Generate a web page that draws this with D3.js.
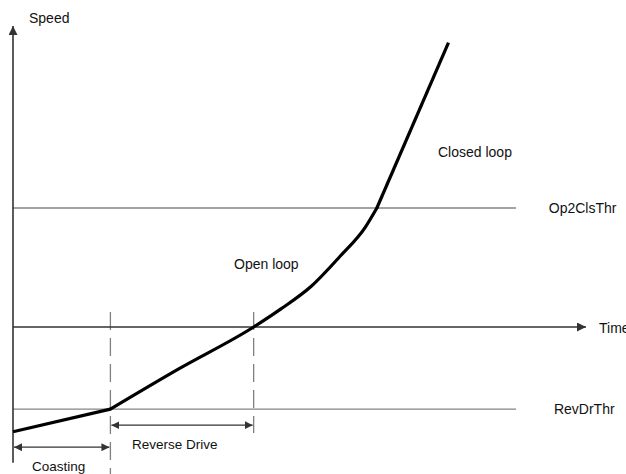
<!DOCTYPE html>
<html>
<head>
<meta charset="utf-8">
<script src="https://cdn.jsdelivr.net/npm/d3@7"></script>
<style>
  html, body { margin: 0; padding: 0; background: #fff; }
  svg { display: block; }
  text { font-family: "Liberation Sans", Arial, sans-serif; fill: #111; }
</style>
</head>
<body>
<svg id="chart" width="626" height="474"></svg>
<script>
// ---- Data (arbitrary units) ----
const curveCoastT = [0, 1.7];
const curveCoastS = [-88, -69];
const curveOpenT = [1.7, 2.9, 4.2, 4.67, 5.2, 5.7, 6.15, 6.35];
const curveOpenS = [-69, -35, 0, 15, 34, 59, 84, 100];
const curveClosedT = [6.35, 7.6];
const curveClosedS = [100, 239];

const thresholdNames = ["Op2ClsThr", "RevDrThr"];
const thresholdValues = [100, -69];

const phaseBoundaries = [1.7, 4.2];          // end of coasting, end of reverse drive
const phaseLabels = ["Coasting", "Reverse Drive"];
const regionLabels = ["Open loop", "Closed loop"];
const axisLabels = ["Speed", "Time"];

// ---- Scales ----
const x = d3.scaleLinear().domain([0, 10]).range([13, 586]);
const y = d3.scaleLinear().domain([0, 100]).range([327, 208]);

const svg = d3.select("#chart");

// markers
const defs = svg.append("defs");
function marker(id, len, half, color) {
  defs.append("marker")
    .attr("id", id)
    .attr("markerUnits", "userSpaceOnUse")
    .attr("viewBox", `0 ${-half} ${len} ${2 * half}`)
    .attr("refX", len).attr("refY", 0)
    .attr("markerWidth", len).attr("markerHeight", 2 * half)
    .attr("orient", "auto-start-reverse")
    .append("path")
    .attr("d", `M0,${-half}L${len},0L0,${half}Z`)
    .attr("fill", color);
}
marker("axisArrow", 9, 4.5, "#333");
marker("dimArrow", 8, 4, "#333");

// threshold lines
svg.append("g").selectAll("line")
  .data(thresholdValues)
  .join("line")
  .attr("x1", x(0)).attr("x2", x(8.78))
  .attr("y1", d => y(d)).attr("y2", d => y(d))
  .attr("stroke", "#858585").attr("stroke-width", 1.3);

svg.append("g").selectAll("text")
  .data(thresholdNames)
  .join("text")
  .attr("x", (d, i) => i === 0 ? x(9.35) : x(9.44))
  .attr("y", (d, i) => y(thresholdValues[i]) + 5)
  .attr("font-size", 14)
  .text(d => d);

// dashed phase boundaries
const dashBottoms = [-124, -89];
svg.append("g").selectAll("line")
  .data(phaseBoundaries)
  .join("line")
  .attr("x1", d => x(d)).attr("x2", d => x(d))
  .attr("y1", y(12.6)).attr("y2", (d, i) => y(dashBottoms[i]))
  .attr("stroke", "#808080").attr("stroke-width", 1.3)
  .attr("stroke-dasharray", "18,8");

// time axis (speed = 0)
svg.append("line")
  .attr("x1", x(0)).attr("x2", x(10))
  .attr("y1", y(0)).attr("y2", y(0))
  .attr("stroke", "#333").attr("stroke-width", 1.6)
  .attr("marker-end", "url(#axisArrow)");

// speed axis
svg.append("line")
  .attr("x1", x(0)).attr("x2", x(0))
  .attr("y1", y(-114)).attr("y2", y(253))
  .attr("stroke", "#333").attr("stroke-width", 1.6)
  .attr("marker-end", "url(#axisArrow)");

// axis labels
svg.append("text").attr("x", 29).attr("y", 23).attr("font-size", 14).text(axisLabels[0]);
svg.append("text").attr("x", x(10) + 13).attr("y", y(0) + 6).attr("font-size", 14).text(axisLabels[1]);

// speed curve
const lineLin = d3.line().x(d => x(d[0])).y(d => y(d[1]));
const lineSmooth = d3.line().x(d => x(d[0])).y(d => y(d[1])).curve(d3.curveMonotoneX);
const zip = (a, b) => a.map((v, i) => [v, b[i]]);

svg.append("path").datum(zip(curveCoastT, curveCoastS))
  .attr("d", lineLin).attr("fill", "none").attr("stroke", "#000")
  .attr("stroke-width", 3.2).attr("stroke-linejoin", "round");
svg.append("path").datum(zip(curveOpenT, curveOpenS))
  .attr("d", lineSmooth).attr("fill", "none").attr("stroke", "#000")
  .attr("stroke-width", 3.2).attr("stroke-linejoin", "round").attr("stroke-linecap", "round");
svg.append("path").datum(zip(curveClosedT, curveClosedS))
  .attr("d", lineLin).attr("fill", "none").attr("stroke", "#000")
  .attr("stroke-width", 3.2).attr("stroke-linecap", "butt");

// dimension arrows
const dimStart = [0, phaseBoundaries[0]];
const dimEnd = [phaseBoundaries[0], phaseBoundaries[1]];
const dimLevel = [-101, -82.5];
svg.append("g").selectAll("line")
  .data(phaseLabels)
  .join("line")
  .attr("x1", (d, i) => x(dimStart[i]) + 1).attr("x2", (d, i) => x(dimEnd[i]) - 1)
  .attr("y1", (d, i) => y(dimLevel[i])).attr("y2", (d, i) => y(dimLevel[i]))
  .attr("stroke", "#333").attr("stroke-width", 1.3)
  .attr("marker-start", "url(#dimArrow)")
  .attr("marker-end", "url(#dimArrow)");

const phaseLabelX = [32, 132];
const phaseLabelY = [471, 449];
svg.append("g").selectAll("text")
  .data(phaseLabels)
  .join("text")
  .attr("x", (d, i) => phaseLabelX[i])
  .attr("y", (d, i) => phaseLabelY[i])
  .attr("font-size", 13.5)
  .text(d => d);

// region labels
svg.append("text").attr("x", 234).attr("y", 269).attr("font-size", 14).text(regionLabels[0]);
svg.append("text").attr("x", 438).attr("y", 157).attr("font-size", 14).text(regionLabels[1]);
</script>
</body>
</html>
